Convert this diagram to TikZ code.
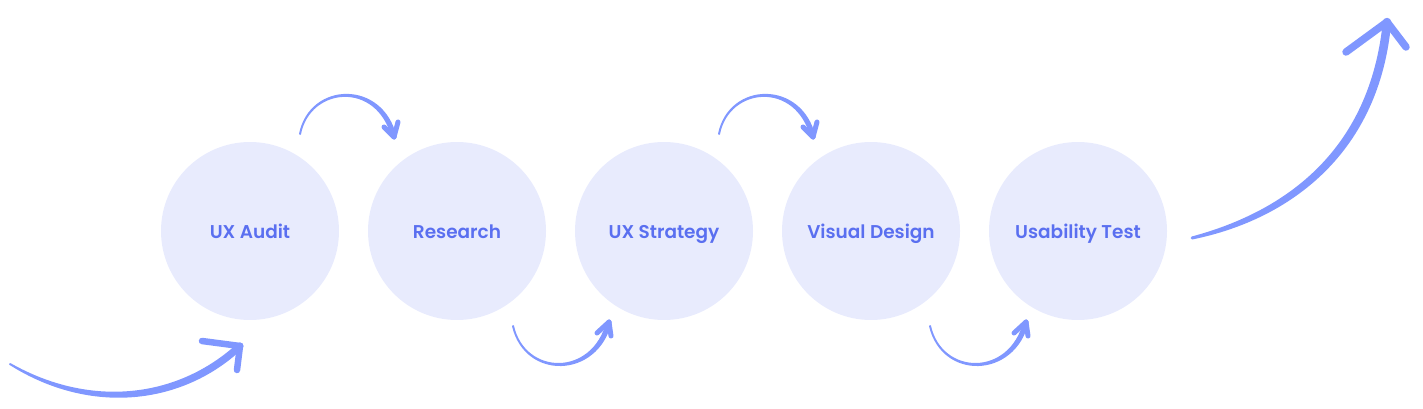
\documentclass[tikz,border=0pt]{standalone}
\usepackage{fontspec}
\setmainfont{Poppins}[BoldFont={Poppins SemiBold}]
\usetikzlibrary{calc}
\definecolor{circfill}{HTML}{E8EBFD}
\definecolor{txtcol}{HTML}{5A6FF0}
\definecolor{arrcol}{HTML}{8097FF}
% tapered stroke: #1 start, #2 ctrl1, #3 ctrl2, #4 end, half widths #5 #6 #7 #8
\newcommand\taperstroke[8]{%
  \fill[arrcol]
    ($(#1)!#5!90:(#2)$) .. controls ($(#2)!#6!90:(#3)$) and ($(#3)!#7!90:(#4)$) ..
    ($(#4)!#8!-90:(#3)$) -- ($(#4)!#8!90:(#3)$) .. controls ($(#3)!#7!-90:(#4)$) and ($(#2)!#6!-90:(#3)$) ..
    ($(#1)!#5!-90:(#2)$) -- cycle;
  \fill[arrcol] (#4) circle (#8);
  \fill[arrcol] (#1) circle (#5);
}
\begin{document}
\begin{tikzpicture}[x=1pt,y=-1pt,
  stage/.style={circle,fill=circfill,minimum size=178pt,inner sep=0pt},
  lbl/.style={anchor=base,inner sep=0pt,text=txtcol,font=\fontsize{18.5}{22}\selectfont\bfseries},
  barb/.style={draw=arrcol,line width=6pt,line cap=round,line join=round}]
\useasboundingbox (0,0) rectangle (1423,409);
\node[stage] (a) at (250,231) {};
\node[stage] (b) at (457,231) {};
\node[stage] (c) at (664,231) {};
\node[stage] (d) at (871,231) {};
\node[stage] (e) at (1078,231) {};
\node[lbl] (la) at (250,238) {UX Audit};
\node[lbl] (lb) at (457,238) {Research};
\node[lbl] (lc) at (664,238) {UX Strategy};
\node[lbl] (ld) at (871,238) {Visual Design};
\node[lbl] (le) at (1078,238) {Usability Test};
% arrow 1
\coordinate (s1) at (10,364); \coordinate (p1) at (90,412); \coordinate (q1) at (180,402); \coordinate (t1) at (240,346);
\taperstroke{s1}{p1}{q1}{t1}{1pt}{4pt}{4.2pt}{3.6pt}
\path[barb,line width=6.5pt] (202,341) -- (t1) -- (237,370);
% arrow 2
\coordinate (s2) at (300,134); \coordinate (p2) at (310,84); \coordinate (q2) at (380,80); \coordinate (t2) at (394,137);
\taperstroke{s2}{p2}{q2}{t2}{1pt}{3pt}{3pt}{2.6pt}
\path[barb,line width=5pt] (384,127) -- (t2) -- (398,122);
% arrow 3
\coordinate (s3) at (513,326); \coordinate (p3) at (525,378); \coordinate (q3) at (595,378); \coordinate (t3) at (609,322);
\taperstroke{s3}{p3}{q3}{t3}{1pt}{3pt}{3pt}{2.6pt}
\path[barb,line width=5pt] (597,333) -- (t3) -- (611,336);
% arrow 4
\coordinate (s4) at (719,134); \coordinate (p4) at (729,84); \coordinate (q4) at (799,80); \coordinate (t4) at (813,137);
\taperstroke{s4}{p4}{q4}{t4}{1pt}{3pt}{3pt}{2.6pt}
\path[barb,line width=5pt] (803,127) -- (t4) -- (817,122);
% arrow 5
\coordinate (s5) at (930,326); \coordinate (p5) at (942,378); \coordinate (q5) at (1012,378); \coordinate (t5) at (1026,322);
\taperstroke{s5}{p5}{q5}{t5}{1pt}{3pt}{3pt}{2.6pt}
\path[barb,line width=5pt] (1014,333) -- (t5) -- (1028,336);
% arrow 6
\coordinate (s6) at (1192,238); \coordinate (p6) at (1290,215); \coordinate (q6) at (1375,150); \coordinate (t6) at (1387,22);
\taperstroke{s6}{p6}{q6}{t6}{1.5pt}{5pt}{5pt}{4.2pt}
\path[barb,line width=7.5pt] (1346,52) -- (t6) -- (1406,47);
\end{tikzpicture}
\end{document}
